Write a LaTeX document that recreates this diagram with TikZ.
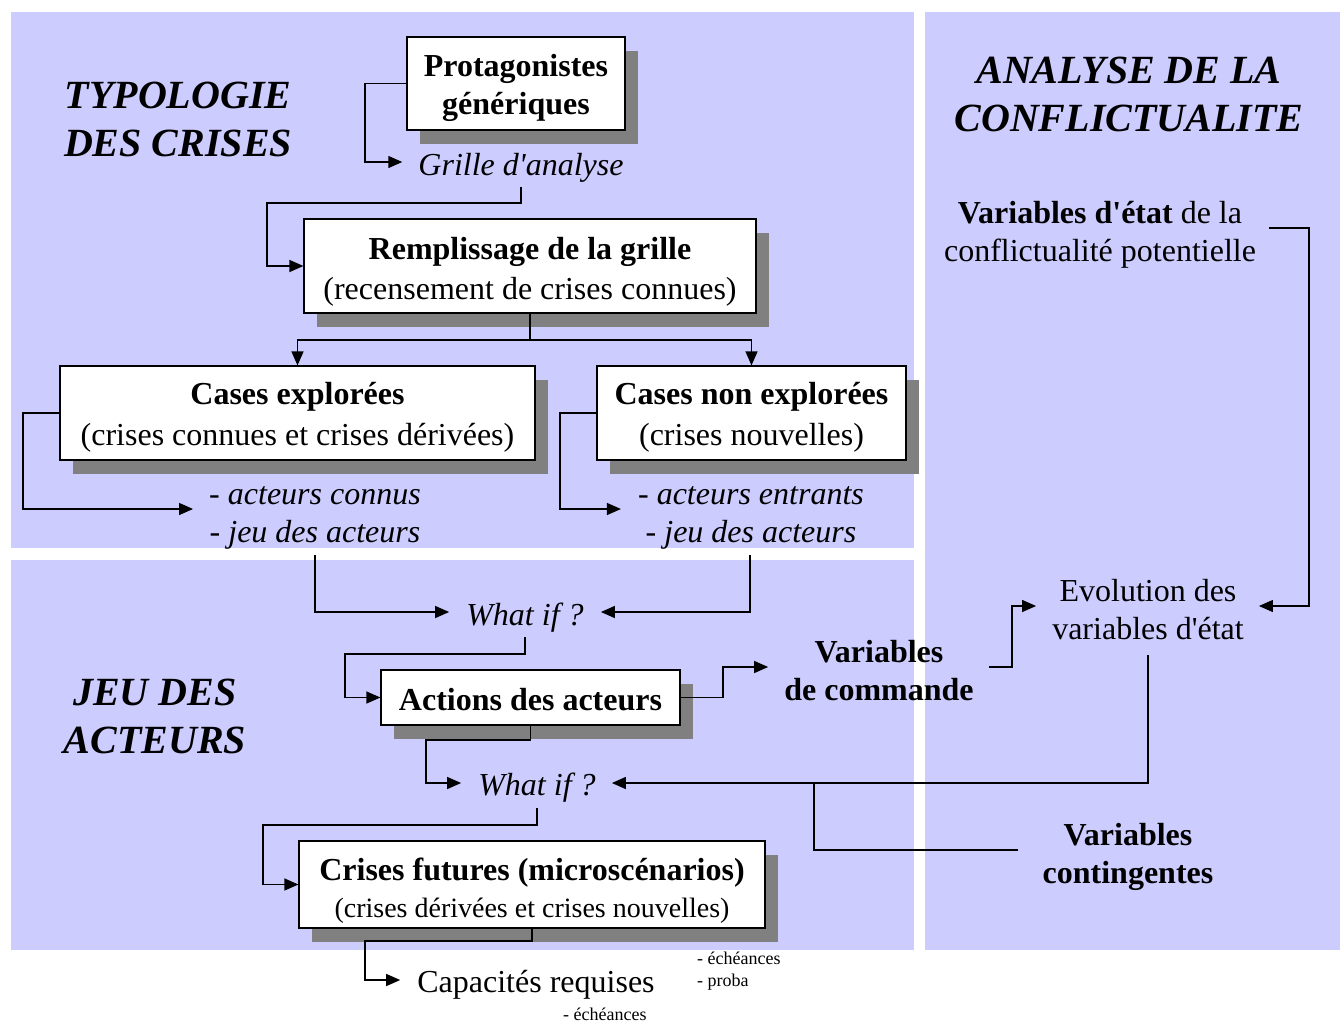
\documentclass[tikz,border=0pt]{standalone}
\usepackage{fontspec}
\setmainfont{Liberation Serif}
\usetikzlibrary{arrows.meta,shadows}
\definecolor{panel}{HTML}{CCCCFF}
\definecolor{shade}{HTML}{808080}
\newcommand{\apos}{\textquotesingle}
\newcommand{\lift}[1]{\rule{0pt}{#1pt}}
\begin{document}
\begin{tikzpicture}[x=1pt,y=-1pt,
  every node/.style={inner sep=0pt, font=\fontsize{32}{38}\selectfont},
  box/.style={draw=black, line width=1.2pt, fill=white, align=center,
    drop shadow={shadow xshift=13pt, shadow yshift=-14pt, fill=shade, opacity=1}},
  lbl/.style={align=center},
  ilbl/.style={align=center, font=\fontsize{32}{38}\selectfont\itshape},
  blbl/.style={align=center, font=\fontsize{32}{38}\selectfont\bfseries},
  ttl/.style={align=center, font=\fontsize{40}{48}\selectfont\bfseries\itshape},
  note/.style={anchor=west, font=\fontsize{18}{22}\selectfont},
  conn/.style={line width=1.3pt},
  arr/.style={conn, -{Triangle[length=14pt,width=12pt]}},
]
\useasboundingbox (0,0) rectangle (1340,1025);
% panels
\fill[panel] (11,12) rectangle (914,548);
\fill[panel] (11,560) rectangle (914,950);
\fill[panel] (925,12) rectangle (1340,950);

% titles
\node[ttl] (typo) at (178,119) {TYPOLOGIE\\DES CRISES};
\node[ttl] (conf) at (1129,94) {ANALYSE DE LA\\CONFLICTUALITE};
\node[ttl] (jeu) at (155,716) {JEU DES\\ACTEURS};

% boxes
\node[box, minimum width=218pt, minimum height=93pt] (prot) at (516,83.5)
  {\lift{32}\bfseries Protagonistes\\\bfseries génériques};
\node[box, minimum width=452pt, minimum height=94pt] (remp) at (530,266)
  {\lift{33}{\bfseries Remplissage de la grille}\\[2pt](recensement de crises connues)};
\node[box, minimum width=475pt, minimum height=94pt] (cexp) at (297.5,413)
  {\lift{30}{\bfseries Cases explorées}\\[3pt](crises connues et crises dérivées)};
\node[box, minimum width=309pt, minimum height=94pt] (cnon) at (751.5,413)
  {\lift{30}{\bfseries Cases non explorées}\\[3pt](crises nouvelles)};
\node[box, minimum width=299pt, minimum height=55pt] (act) at (530.5,697.5)
  {\lift{26}\bfseries Actions des acteurs};
\node[box, minimum width=466pt, minimum height=87pt] (fut) at (532,884.5)
  {\lift{35}{\bfseries Crises futures (microscénarios)}\\[-1pt]{\fontsize{28}{34}\selectfont(crises dérivées et crises nouvelles)}};

% labels
\node[ilbl] (grille) at (521,168) {Grille d\apos analyse};
\node[ilbl] (connus) at (315,518) {- acteurs connus\\- jeu des acteurs};
\node[ilbl] (entrants) at (751,518) {- acteurs entrants\\- jeu des acteurs};
\node[ilbl] (whatif1) at (525,618) {What if ?};
\node[ilbl] (whatif2) at (537,788) {What if ?};
\node[blbl] (varcmd) at (879,671) {Variables\\de commande};
\node[lbl] (evol) at (1148,610) {Evolution des\\variables d\apos état};
\node[lbl] (varetat) at (1100,235) {{\bfseries Variables d\apos état} de la\\conflictualité potentielle};
\node[blbl] (varcont) at (1128,857) {Variables\\contingentes};
\node[lbl] (capa) at (536,985) {Capacités requises};
\node[note] (ech1) at (697,958) {- échéances};
\node[note] (proba) at (697,982) {- proba};
\node[note] (ech2) at (563,1014) {- échéances};

% free ends
\coordinate (gs) at (521,187);
\coordinate (split) at (530,340);
\coordinate (j1) at (315,555);
\coordinate (j2) at (750,555);
\coordinate (w1s) at (525,637);
\coordinate (ev) at (1148,655);
\coordinate (w2s) at (537,808);

% connectors
\draw[arr] (prot.west) -- (365,83.5) |- ([xshift=-16pt,yshift=6pt]grille.west);
\draw[arr] (gs) |- (267,203) |- (remp.west);
\draw[conn] (remp.south) -- (split);
\draw[arr] (split) -| (cexp.north);
\draw[arr] (split) -| (cnon.north);
\draw[arr] (cexp.west) -- (23,413) |- ([xshift=-16pt,yshift=9pt]connus.west);
\draw[arr] (cnon.west) -- (560,413) |- ([xshift=-17pt,yshift=9pt]entrants.west);
\draw[arr] (j1) |- ([xshift=-17pt,yshift=6pt]whatif1.west);
\draw[arr] (j2) |- ([xshift=17pt,yshift=6pt]whatif1.east);
\draw[arr] (w1s) |- (345,654) |- (act.west);
\draw[arr] (act.east) -- (723,697.5) |- ([xshift=-16pt,yshift=4pt]varcmd.west);
\draw[arr] ([xshift=15pt,yshift=4pt]varcmd.east) -- (1012,667) |- ([xshift=-16pt,yshift=4pt]evol.west);
\draw[arr] ([xshift=13pt,yshift=7pt]varetat.east) -- (1309,228) |- ([xshift=15pt,yshift=4pt]evol.east);
\draw[arr] (act.south) |- (426,740) |- ([xshift=-17pt,yshift=5pt]whatif2.west);
\draw[arr] (ev) |- ([xshift=16pt,yshift=5pt]whatif2.east);
\draw[conn] ([xshift=-24pt,yshift=7pt]varcont.west) -| (814,783);
\draw[arr] (w2s) |- (263,825) |- (fut.west);
\draw[arr] (fut.south) |- (365,941) |- ([xshift=-17pt,yshift=5pt]capa.west);
\end{tikzpicture}
\end{document}
